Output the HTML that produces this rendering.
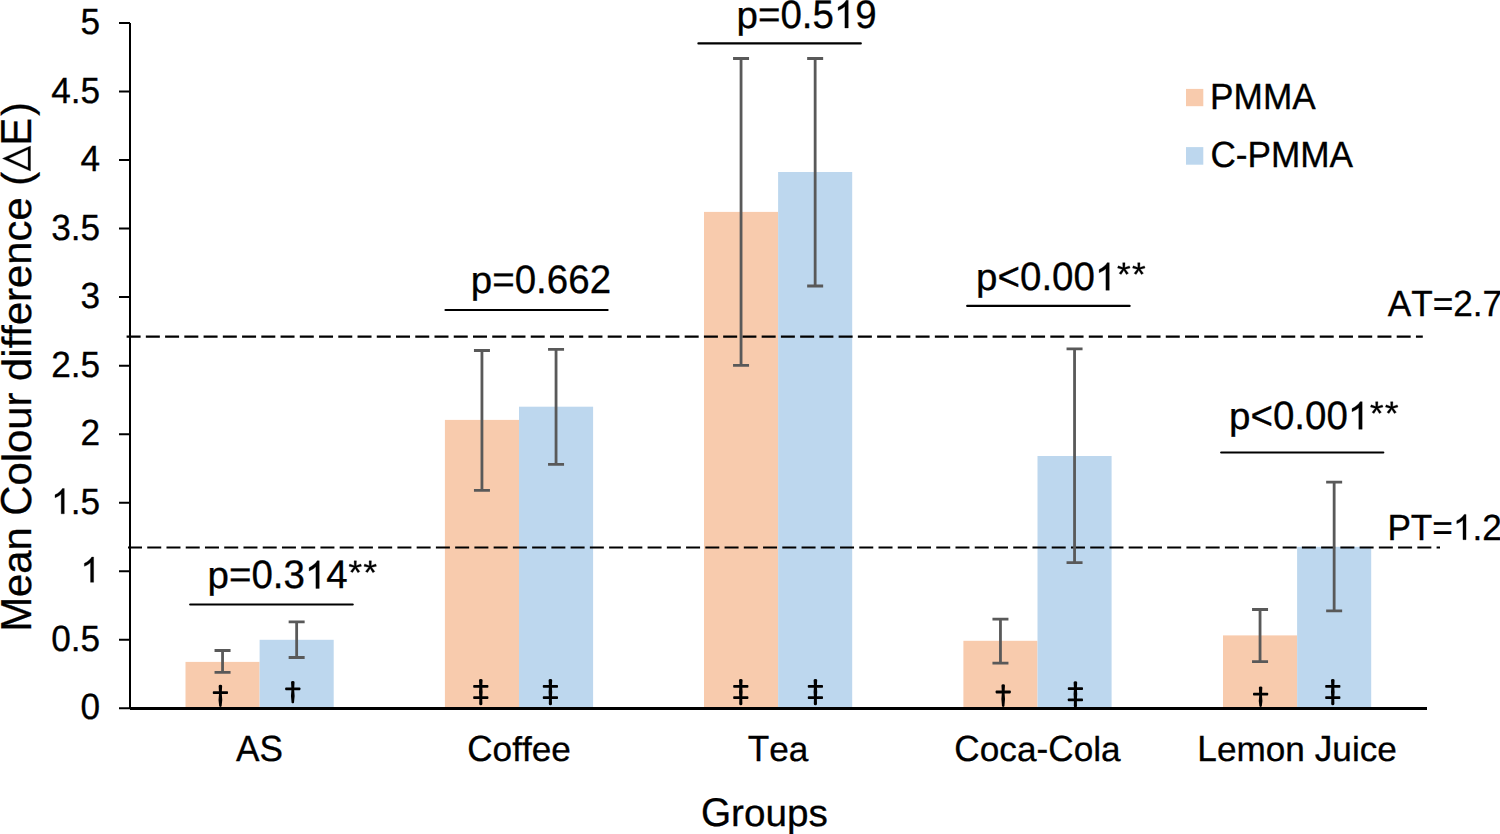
<!DOCTYPE html>
<html><head><meta charset="utf-8"><style>
html,body{margin:0;padding:0;background:#fff;width:1500px;height:834px;overflow:hidden}
svg{display:block;font-family:"Liberation Sans",sans-serif;font-kerning:none;font-variant-ligatures:none}
text{fill:#000;stroke:#000;stroke-width:0.3px;text-rendering:geometricPrecision}
.h{fill-opacity:0;stroke-opacity:0}
</style></head><body>
<svg width="1500" height="834" viewBox="0 0 1500 834">
<rect width="1500" height="834" fill="#fff"/>
<rect x="185.5" y="661.9" width="74.1" height="46.4" fill="#F8CBAD"/>
<rect x="259.6" y="639.8" width="74.1" height="68.5" fill="#BDD7EE"/>
<rect x="444.9" y="419.9" width="74.1" height="288.4" fill="#F8CBAD"/>
<rect x="519" y="406.7" width="74.1" height="301.6" fill="#BDD7EE"/>
<rect x="704" y="211.9" width="74.1" height="496.4" fill="#F8CBAD"/>
<rect x="778.1" y="172" width="74.1" height="536.3" fill="#BDD7EE"/>
<rect x="963.4" y="640.8" width="74.1" height="67.5" fill="#F8CBAD"/>
<rect x="1037.5" y="456" width="74.1" height="252.3" fill="#BDD7EE"/>
<rect x="1223" y="635.4" width="74.1" height="72.9" fill="#F8CBAD"/>
<rect x="1297.1" y="546.8" width="74.1" height="161.5" fill="#BDD7EE"/>
<line x1="126.6" y1="336.6" x2="1422.8" y2="336.6" stroke="#000" stroke-width="2.1" stroke-dasharray="14 5.244"/>
<line x1="128" y1="547.5" x2="1440" y2="547.5" stroke="#000" stroke-width="2.1" stroke-dasharray="14 5.244"/>
<path d="M214.55 650.5H230.55M222.55 650.5V672.4M214.55 672.4H230.55" stroke="#595959" stroke-width="2.8" fill="none"/>
<path d="M288.65 621.8H304.65M296.65 621.8V657.5M288.65 657.5H304.65" stroke="#595959" stroke-width="2.8" fill="none"/>
<path d="M473.95 350.5H489.95M481.95 350.5V490.3M473.95 490.3H489.95" stroke="#595959" stroke-width="2.8" fill="none"/>
<path d="M548.05 349.3H564.05M556.05 349.3V464.4M548.05 464.4H564.05" stroke="#595959" stroke-width="2.8" fill="none"/>
<path d="M733.05 58.5H749.05M741.05 58.5V365.4M733.05 365.4H749.05" stroke="#595959" stroke-width="2.8" fill="none"/>
<path d="M807.15 58.5H823.15M815.15 58.5V286M807.15 286H823.15" stroke="#595959" stroke-width="2.8" fill="none"/>
<path d="M992.45 619.2H1008.45M1000.45 619.2V663.2M992.45 663.2H1008.45" stroke="#595959" stroke-width="2.8" fill="none"/>
<path d="M1066.55 348.9H1082.55M1074.55 348.9V562.7M1066.55 562.7H1082.55" stroke="#595959" stroke-width="2.8" fill="none"/>
<path d="M1252.05 609.5H1268.05M1260.05 609.5V661.6M1252.05 661.6H1268.05" stroke="#595959" stroke-width="2.8" fill="none"/>
<path d="M1326.15 482.2H1342.15M1334.15 482.2V610.9M1326.15 610.9H1342.15" stroke="#595959" stroke-width="2.8" fill="none"/>
<g fill="#000"><path d="M218.65 686Q218.65 684.8 220.4 684.8Q222.15 684.8 222.15 686L221.75 693.3Q222.8 699.8 221.6 706.3Q220.4 707.5 219.2 706.3Q218 699.8 219.05 693.3Z"/><rect x="212.8" y="691.2" width="15.2" height="2.8" rx="0.8"/><path d="M291.05 682.3Q291.05 681.1 292.8 681.1Q294.55 681.1 294.55 682.3L294.15 689.6Q295.2 696.1 294 702.7Q292.8 703.9 291.6 702.7Q290.4 696.1 291.45 689.6Z"/><rect x="285.2" y="687.5" width="15.2" height="2.8" rx="0.8"/><path d="M479 680.2Q479 679 480.8 679Q482.6 679 482.6 680.2L482.25 686.4Q483 692 482.25 697.7L482.4 703.7Q482.4 705.3 480.8 705.3Q479.2 705.3 479.2 703.7L479.35 697.7Q478.6 692 479.35 686.4Z"/><rect x="473.2" y="685" width="15.2" height="2.8" rx="0.8"/><rect x="473.2" y="696.3" width="15.2" height="2.8" rx="0.8"/><path d="M548.6 680.2Q548.6 679 550.4 679Q552.2 679 552.2 680.2L551.85 686.4Q552.6 692 551.85 697.7L552 703.7Q552 705.3 550.4 705.3Q548.8 705.3 548.8 703.7L548.95 697.7Q548.2 692 548.95 686.4Z"/><rect x="542.8" y="685" width="15.2" height="2.8" rx="0.8"/><rect x="542.8" y="696.3" width="15.2" height="2.8" rx="0.8"/><path d="M739 680.2Q739 679 740.8 679Q742.6 679 742.6 680.2L742.25 686.4Q743 692 742.25 697.7L742.4 703.7Q742.4 705.3 740.8 705.3Q739.2 705.3 739.2 703.7L739.35 697.7Q738.6 692 739.35 686.4Z"/><rect x="733.2" y="685" width="15.2" height="2.8" rx="0.8"/><rect x="733.2" y="696.3" width="15.2" height="2.8" rx="0.8"/><path d="M813.6 680.2Q813.6 679 815.4 679Q817.2 679 817.2 680.2L816.85 686.4Q817.6 692 816.85 697.7L817 703.7Q817 705.3 815.4 705.3Q813.8 705.3 813.8 703.7L813.95 697.7Q813.2 692 813.95 686.4Z"/><rect x="807.8" y="685" width="15.2" height="2.8" rx="0.8"/><rect x="807.8" y="696.3" width="15.2" height="2.8" rx="0.8"/><path d="M1001.45 685.4Q1001.45 684.2 1003.2 684.2Q1004.95 684.2 1004.95 685.4L1004.55 692.7Q1005.6 699.2 1004.4 706.3Q1003.2 707.5 1002 706.3Q1000.8 699.2 1001.85 692.7Z"/><rect x="995.6" y="690.6" width="15.2" height="2.8" rx="0.8"/><path d="M1073.6 682.4Q1073.6 681.2 1075.4 681.2Q1077.2 681.2 1077.2 682.4L1076.85 688.6Q1077.6 694.2 1076.85 699.9L1077 705.9Q1077 707.5 1075.4 707.5Q1073.8 707.5 1073.8 705.9L1073.95 699.9Q1073.2 694.2 1073.95 688.6Z"/><rect x="1067.8" y="687.2" width="15.2" height="2.8" rx="0.8"/><rect x="1067.8" y="698.5" width="15.2" height="2.8" rx="0.8"/><path d="M1258.85 687.6Q1258.85 686.4 1260.6 686.4Q1262.35 686.4 1262.35 687.6L1261.95 694.9Q1263 701.4 1261.8 706.3Q1260.6 707.5 1259.4 706.3Q1258.2 701.4 1259.25 694.9Z"/><rect x="1253" y="692.8" width="15.2" height="2.8" rx="0.8"/><path d="M1331 680.2Q1331 679 1332.8 679Q1334.6 679 1334.6 680.2L1334.25 686.4Q1335 692 1334.25 697.7L1334.4 703.7Q1334.4 705.3 1332.8 705.3Q1331.2 705.3 1331.2 703.7L1331.35 697.7Q1330.6 692 1331.35 686.4Z"/><rect x="1325.2" y="685" width="15.2" height="2.8" rx="0.8"/><rect x="1325.2" y="696.3" width="15.2" height="2.8" rx="0.8"/></g>
<path d="M130 23V708.3" stroke="#000" stroke-width="2" fill="none"/>
<path d="M130 708.4H1427" stroke="#000" stroke-width="3" fill="none"/>
<path d="M119 708.3H130M119 639.77H130M119 571.24H130M119 502.71H130M119 434.18H130M119 365.65H130M119 297.12H130M119 228.59H130M119 160.06H130M119 91.53H130M119 23H130" stroke="#000" stroke-width="2" fill="none"/>
<text transform="translate(80.52 719.4) scale(1 1.035)" font-size="35.2">0</text>
<text transform="translate(51.17 650.87) scale(1 1.035)" font-size="35.2">0.5</text>
<text transform="translate(80.52 582.34) scale(1 1.035)" font-size="35.2"><tspan class="h">1</tspan></text>
<text transform="translate(51.17 513.81) scale(1 1.035)" font-size="35.2"><tspan class="h">1</tspan>.5</text>
<text transform="translate(80.52 445.28) scale(1 1.035)" font-size="35.2">2</text>
<text transform="translate(51.17 376.75) scale(1 1.035)" font-size="35.2">2.5</text>
<text transform="translate(80.52 308.22) scale(1 1.035)" font-size="35.2">3</text>
<text transform="translate(51.17 239.69) scale(1 1.035)" font-size="35.2">3.5</text>
<text transform="translate(80.52 171.16) scale(1 1.035)" font-size="35.2">4</text>
<text transform="translate(51.17 102.63) scale(1 1.035)" font-size="35.2">4.5</text>
<text transform="translate(80.52 34.1) scale(1 1.035)" font-size="35.2">5</text>
<text transform="translate(236.12 761.3) scale(1 1.035)" font-size="35.2">AS</text>
<text transform="translate(467.15 761.3) scale(1 1.035)" font-size="35.2">C</text><text transform="translate(492.57 761.3) scale(1 0.98)" font-size="35.2">offee</text>
<text transform="translate(747.77 761.3) scale(1 1.035)" font-size="35.2">T</text><text transform="translate(769.27 761.3) scale(1 0.98)" font-size="35.2">ea</text>
<text transform="translate(954.36 761.3) scale(1 1.035)" font-size="35.2">C</text><text transform="translate(979.78 761.3) scale(1 0.98)" font-size="35.2">oca</text><text transform="translate(1036.53 761.3) scale(1 1.035)" font-size="35.2">-C</text><text transform="translate(1073.67 761.3) scale(1 0.98)" font-size="35.2">ola</text>
<text transform="translate(1197.31 761.3) scale(1 1.035)" font-size="35.2">L</text><text transform="translate(1216.89 761.3) scale(1 0.98)" font-size="35.2">emon</text><text transform="translate(1314.72 761.3) scale(1 1.035)" font-size="35.2">J</text><text transform="translate(1332.32 761.3) scale(1 0.98)" font-size="35.2">uice</text>
<path d="M190.2 604.5H352.7" stroke="#000" stroke-width="2.2" stroke-linecap="round" fill="none"/>
<path d="M445.5 310H607.6" stroke="#000" stroke-width="2.2" stroke-linecap="round" fill="none"/>
<path d="M698.4 43.4H860.8" stroke="#000" stroke-width="2.2" stroke-linecap="round" fill="none"/>
<path d="M967.2 305.9H1129.6" stroke="#000" stroke-width="2.2" stroke-linecap="round" fill="none"/>
<path d="M1221.2 452.5H1383.3" stroke="#000" stroke-width="2.2" stroke-linecap="round" fill="none"/>
<text transform="translate(207.5 588.4) scale(1 0.98)" font-size="38.5">p</text><text transform="translate(228.91 588.4) scale(1 1.035)" font-size="38.5">=0.3<tspan class="h">1</tspan>4<tspan class="h">*</tspan><tspan class="h">*</tspan></text>
<text transform="translate(470.8 292.9) scale(1 0.98)" font-size="38.5">p</text><text transform="translate(492.21 292.9) scale(1 1.035)" font-size="38.5">=0.662</text>
<text transform="translate(736.5 28) scale(1 0.98)" font-size="38.5">p</text><text transform="translate(757.91 28) scale(1 1.035)" font-size="38.5">=0.5<tspan class="h">1</tspan>9</text>
<text transform="translate(976.1 290.3) scale(1 0.98)" font-size="38.5">p</text><text transform="translate(997.51 290.3) scale(1 1.035)" font-size="38.5">&lt;0.00<tspan class="h">1</tspan><tspan class="h">*</tspan><tspan class="h">*</tspan></text>
<text transform="translate(1229 429.3) scale(1 0.98)" font-size="38.5">p</text><text transform="translate(1250.41 429.3) scale(1 1.035)" font-size="38.5">&lt;0.00<tspan class="h">1</tspan><tspan class="h">*</tspan><tspan class="h">*</tspan></text>
<text transform="translate(1387.7 316) scale(1 1.035)" font-size="35.2">AT=2.7</text>
<text transform="translate(1387.4 539.7) scale(1 1.035)" font-size="35.2">PT=<tspan class="h">1</tspan>.2</text>
<rect x="1186" y="88.9" width="17.3" height="17.3" fill="#F8CBAD"/>
<rect x="1186" y="147.1" width="17.3" height="17.6" fill="#BDD7EE"/>
<text transform="translate(1210.1 108.8) scale(1 1.035)" font-size="35.2">PMMA</text>
<text transform="translate(1210.4 167.3) scale(1 1.035)" font-size="35.2">C-PMMA</text>
<text transform="translate(700.9 826.4) scale(1 1.035)" font-size="38.7">G</text><text transform="translate(731 826.4) scale(1 0.98)" font-size="38.7">roups</text>
<g transform="translate(30.5 631.8) rotate(-90)"><text transform="translate(0 0) scale(1 1.035)" font-size="41.8">M</text><text transform="translate(34.82 0) scale(1 0.98)" font-size="41.8">ean</text><text transform="translate(116.17 0) scale(1 1.035)" font-size="41.8">C</text><text transform="translate(146.36 0) scale(1 0.98)" font-size="41.8">olour</text><text transform="translate(250.92 0) scale(1 0.98)" font-size="41.8">difference</text><text transform="translate(446.1 0) scale(1 1.0)" font-size="41.8">(</text><text transform="translate(460.02 0) scale(1 1.035)" font-size="41.8"><tspan class="h">Δ</tspan></text><text transform="translate(485.95 0) scale(1 1.035)" font-size="41.8">E</text><text transform="translate(515.83 0) scale(1 1.0)" font-size="41.8">)</text><g fill="#000" stroke="#000" fill-rule="evenodd"><path transform="translate(460.02 0) scale(0.02041 -0.02041)" d="M38 0L1263 0L650 1370ZM210 120L650 1066L1091 120Z" stroke-width="14.7"/></g></g>
<g fill="#000" stroke="#000"><path transform="translate(80.52 582.34) scale(0.01719 -0.01719)" d="M763 0L583 0L583 1147Q518 1085 435 1036Q330 974 223 930L223 1104Q378 1177 494 1279Q610 1381 652 1472L763 1472Z" stroke-width="17.5"/><path transform="translate(51.17 513.81) scale(0.01719 -0.01719)" d="M763 0L583 0L583 1147Q518 1085 435 1036Q330 974 223 930L223 1104Q378 1177 494 1279Q610 1381 652 1472L763 1472Z" stroke-width="17.5"/><path transform="translate(304.92 588.4) scale(0.01880 -0.01880)" d="M763 0L583 0L583 1147Q518 1085 435 1036Q330 974 223 930L223 1104Q378 1177 494 1279Q610 1381 652 1472L763 1472Z" stroke-width="16.0"/><path transform="translate(347.74 588.4) scale(0.01880 -0.01880)" d="M451 1209L692 1298L733 1183L475 1120L645 902L536 839L399 1064L256 841L147 904L320 1120L64 1183L105 1300L349 1207L338 1466L463 1466Z" stroke-width="16.0"/><path transform="translate(362.72 588.4) scale(0.01880 -0.01880)" d="M451 1209L692 1298L733 1183L475 1120L645 902L536 839L399 1064L256 841L147 904L320 1120L64 1183L105 1300L349 1207L338 1466L463 1466Z" stroke-width="16.0"/><path transform="translate(833.92 28) scale(0.01880 -0.01880)" d="M763 0L583 0L583 1147Q518 1085 435 1036Q330 974 223 930L223 1104Q378 1177 494 1279Q610 1381 652 1472L763 1472Z" stroke-width="16.0"/><path transform="translate(1094.93 290.3) scale(0.01880 -0.01880)" d="M763 0L583 0L583 1147Q518 1085 435 1036Q330 974 223 930L223 1104Q378 1177 494 1279Q610 1381 652 1472L763 1472Z" stroke-width="16.0"/><path transform="translate(1116.34 290.3) scale(0.01880 -0.01880)" d="M451 1209L692 1298L733 1183L475 1120L645 902L536 839L399 1064L256 841L147 904L320 1120L64 1183L105 1300L349 1207L338 1466L463 1466Z" stroke-width="16.0"/><path transform="translate(1131.32 290.3) scale(0.01880 -0.01880)" d="M451 1209L692 1298L733 1183L475 1120L645 902L536 839L399 1064L256 841L147 904L320 1120L64 1183L105 1300L349 1207L338 1466L463 1466Z" stroke-width="16.0"/><path transform="translate(1347.83 429.3) scale(0.01880 -0.01880)" d="M763 0L583 0L583 1147Q518 1085 435 1036Q330 974 223 930L223 1104Q378 1177 494 1279Q610 1381 652 1472L763 1472Z" stroke-width="16.0"/><path transform="translate(1369.24 429.3) scale(0.01880 -0.01880)" d="M451 1209L692 1298L733 1183L475 1120L645 902L536 839L399 1064L256 841L147 904L320 1120L64 1183L105 1300L349 1207L338 1466L463 1466Z" stroke-width="16.0"/><path transform="translate(1384.22 429.3) scale(0.01880 -0.01880)" d="M451 1209L692 1298L733 1183L475 1120L645 902L536 839L399 1064L256 841L147 904L320 1120L64 1183L105 1300L349 1207L338 1466L463 1466Z" stroke-width="16.0"/><path transform="translate(1452.94 539.7) scale(0.01719 -0.01719)" d="M763 0L583 0L583 1147Q518 1085 435 1036Q330 974 223 930L223 1104Q378 1177 494 1279Q610 1381 652 1472L763 1472Z" stroke-width="17.5"/></g>
</svg>
</body></html>
